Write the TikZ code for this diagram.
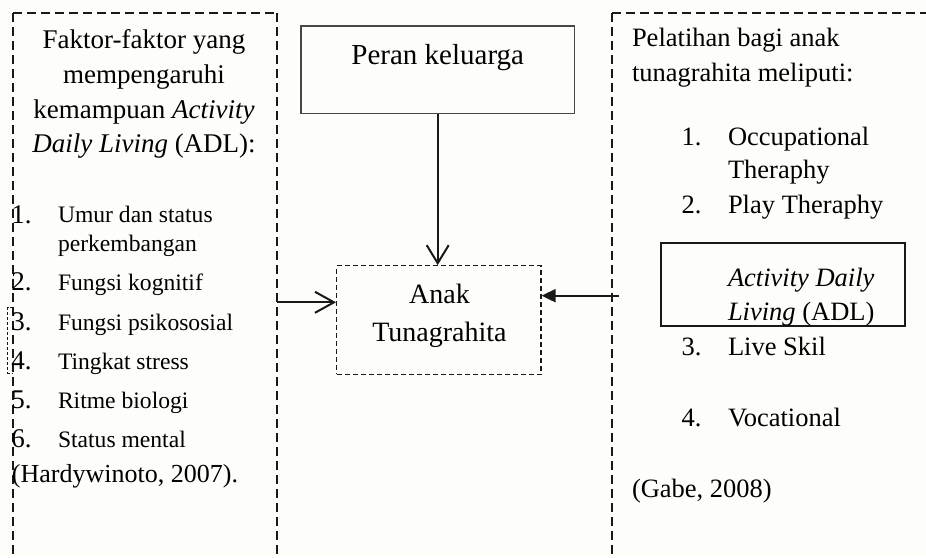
\documentclass[tikz,border=0pt]{standalone}
\usepackage{fontspec}
\setmainfont{Liberation Serif}
\usetikzlibrary{arrows.meta}
\definecolor{bg}{RGB}{253,253,250}
\definecolor{ln}{RGB}{25,25,25}
\begin{document}
\begin{tikzpicture}[x=1pt,y=-1pt,
  txt/.style={inner sep=0pt,outer sep=0pt,font=\fontsize{27}{34}\selectfont,text=black},
  txtc/.style={txt,anchor=base},
  txtl/.style={txt,anchor=base west},
  small/.style={txtl,font=\fontsize{23.6}{30}\selectfont},
  rtxt/.style={txtl,font=\fontsize{26.5}{34}\selectfont},
  bigdash/.style={draw=ln,line width=2pt,dash pattern=on 9pt off 5pt},
  smalldash/.style={draw=ln,line width=1.2pt,dash pattern=on 5pt off 3pt},
  conn/.style={draw=ln,line width=2pt}
]
\fill[bg] (0,0) rectangle (926,557);
\useasboundingbox (0,0) rectangle (926,557);

% dashed frames (open at bottom / right)
\draw[bigdash] (13,12.5) -- (277.3,12.5);
\draw[bigdash] (13,12.5) -- (13,557);
\draw[bigdash] (277.3,12.5) -- (277.3,557);
\draw[bigdash] (612,12.5) -- (926,12.5);
\draw[bigdash] (612,12.5) -- (612,557);
\draw[draw=ln,line width=0.8pt,dash pattern=on 3pt off 2pt] (13,307.5) -- (7.5,307.5) -- (7.5,373) -- (13,373);

% central boxes
\node[draw=ln!80,line width=1.2pt,minimum width=273.3pt,minimum height=87.3pt,inner sep=0pt] (peran) at (437.7,69.7) {};
\node[txtc,font=\fontsize{29}{34}\selectfont] (perantext) at (437.7,64.3) {Peran keluarga};

\node[smalldash,minimum width=204.3pt,minimum height=108.6pt,inner sep=0pt] (anak) at (438.8,320) {};
\node[txtc,font=\fontsize{28}{34}\selectfont] (anak1) at (439.5,303.3) {Anak};
\node[txtc,font=\fontsize{28}{34}\selectfont] (anak2) at (439.5,341.7) {Tunagrahita};

% left text
\node[txtc] (l1) at (144,48) {Faktor-faktor yang};
\node[txtc] (l2) at (144,83.5) {mempengaruhi};
\node[txtc] (l3) at (144,118) {kemampuan \textit{Activity}};
\node[txtc] (l4) at (144,152) {\textit{Daily Living} (ADL):};

\node[txtl] (n1) at (11.5,223) {1.};
\node[small] (i1a) at (58,222) {Umur dan status};
\node[small] (i1b) at (58,251) {perkembangan};
\node[txtl] (n2) at (11.5,290) {2.};
\node[small] (i2) at (58,290) {Fungsi kognitif};
\node[txtl] (n3) at (11.5,330.5) {3.};
\node[small] (i3) at (58,330.5) {Fungsi psikososial};
\node[txtl] (n4) at (11.5,369) {4.};
\node[small] (i4) at (58,369) {Tingkat stress};
\node[txtl] (n5) at (11.5,408) {5.};
\node[small] (i5) at (58,408) {Ritme biologi};
\node[txtl] (n6) at (11.5,447) {6.};
\node[small] (i6) at (58,447) {Status mental};
\node[txtl,font=\fontsize{26}{34}\selectfont] (ref1) at (12,482) {(Hardywinoto, 2007).};

% right text
\node[rtxt] (r1) at (632,46.7) {Pelatihan bagi anak};
\node[rtxt] (r2) at (632,81.7) {tunagrahita meliputi:};
\node[rtxt] (rn1) at (681.7,145) {1.};
\node[rtxt] (ri1a) at (728,145) {Occupational};
\node[rtxt] (ri1b) at (728,178) {Theraphy};
\node[rtxt] (rn2) at (681.7,213) {2.};
\node[rtxt] (ri2) at (728,213) {Play Theraphy};

\node[draw=ln,line width=1.7pt,minimum width=244pt,minimum height=83pt,inner sep=0pt] (adl) at (783,284.2) {};
\node[rtxt] (adl1) at (728,286) {\textit{Activity Daily}};
\node[rtxt] (adl2) at (728,320.5) {\textit{Living} (ADL)};

\node[rtxt] (rn3) at (681.7,355) {3.};
\node[rtxt] (ri3) at (728,355) {Live Skil};
\node[rtxt] (rn4) at (681.7,426) {4.};
\node[rtxt] (ri4) at (728,426) {Vocational};
\node[rtxt] (ref2) at (632,497) {(Gabe, 2008)};

% connectors
\coordinate (lsrc) at (277.3,302.3);
\coordinate (rsrc) at (619,295.7);
\draw[conn,-{Straight Barb[length=18pt,width=22pt,line width=2pt]}] (peran.south) -- (anak.north -| peran.south);
\draw[conn,-{Straight Barb[length=19pt,width=21pt,line width=2pt]}] (lsrc) -- (anak.west |- lsrc);
\draw[conn,-{Triangle[length=14pt,width=13pt]}] (rsrc) -- (anak.east |- rsrc);
\end{tikzpicture}
\end{document}
